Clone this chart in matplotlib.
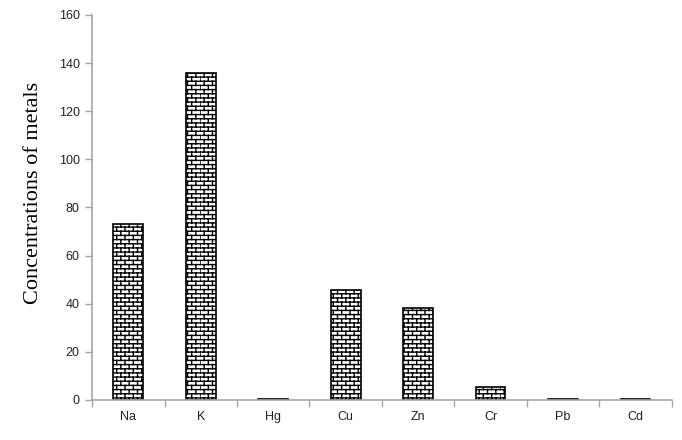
import numpy as np
import matplotlib
matplotlib.use('Agg')
import matplotlib.pyplot as plt
from matplotlib import hatch as mhatch
from matplotlib.path import Path

metals = ['Na', 'K', 'Hg', 'Cu', 'Zn', 'Cr', 'Pb', 'Cd']
conc = [73, 136, 0.3, 45.7, 38.2, 5.5, 0.3, 0.3]
yticks = [0, 20, 40, 60, 80, 100, 120, 140, 160]


# brick pattern: '-' gives the rows, this adds the staggered joints
class BrickJoints(mhatch.HatchPatternBase):
    def __init__(self, hatch, density):
        self.n = int(hatch.count('-') * density)
        self.m = 12
        self.num_vertices = (self.n + 1) * self.m * 2 if self.n else 0

    def set_vertices_and_codes(self, vertices, codes):
        n, m = self.n, self.m
        segs = []
        for k in range(n):
            y0 = (k + 0.5) / n
            y1 = (k + 1.5) / n
            off = 0.0 if k % 2 == 0 else 0.5 / m
            xs = np.arange(m) / m + off
            if y1 <= 1.0:
                for x in xs:
                    segs.append((x, y0, x, y1))
            else:
                for x in xs:
                    segs.append((x, y0, x, 1.0))
                    segs.append((x, 0.0, x, y1 - 1.0))
        segs = np.array(segs)
        vertices[0::2, 0] = segs[:, 0]
        vertices[0::2, 1] = segs[:, 1]
        vertices[1::2, 0] = segs[:, 2]
        vertices[1::2, 1] = segs[:, 3]
        codes[0::2] = Path.MOVETO
        codes[1::2] = Path.LINETO


mhatch._hatch_types.append(BrickJoints)

plt.rcParams['hatch.linewidth'] = 1.0
plt.rcParams['hatch.color'] = 'black'

fig = plt.figure(figsize=(6.82, 4.4), dpi=100)
ax = fig.add_axes([0.135, 0.091, 0.85, 0.875])

x = np.arange(len(metals))
ax.bar(x, conc, width=0.41, color='white', edgecolor='black',
       linewidth=1.2, hatch='----')

ax.set_xlim(-0.5, len(metals) - 0.5)
ax.set_ylim(0, 160)
ax.set_yticks(yticks)
ax.set_xticks(x)
ax.set_xticklabels(metals)
ax.set_xticks(np.arange(len(metals) + 1) - 0.5, minor=True)
ax.tick_params(axis='x', which='major', length=0, pad=8)
ax.tick_params(axis='x', which='minor', length=5, color='#a6a6a6', width=1)
ax.tick_params(axis='y', length=5, color='#a6a6a6', width=1, pad=4)
for lab in ax.get_xticklabels() + ax.get_yticklabels():
    lab.set_fontfamily('Liberation Sans')
    lab.set_fontsize(9)
    lab.set_color('#222222')

for s in ['top', 'right']:
    ax.spines[s].set_visible(False)
for s in ['left', 'bottom']:
    ax.spines[s].set_color('#a6a6a6')
    ax.spines[s].set_linewidth(1.2)

ax.set_ylabel('Concentrations of metals', fontfamily='Liberation Serif',
              fontsize=16)
ax.yaxis.set_label_coords(-0.085, 0.538)

fig.savefig('out.png', dpi=100)
